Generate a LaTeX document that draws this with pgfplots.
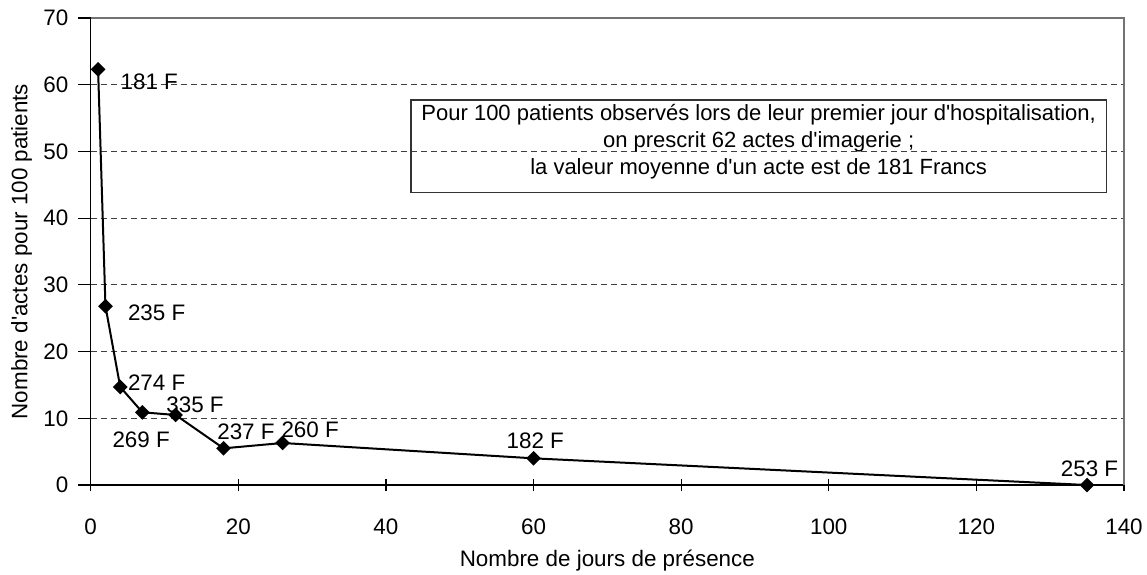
\documentclass[border=0pt]{standalone}
\usepackage{fontspec}
\setmainfont{Liberation Sans}
\usepackage{pgfplots}
\pgfplotsset{compat=1.18}
\usetikzlibrary{calc}
\newcommand{\q}{\textquotesingle}
\begin{document}
\begin{tikzpicture}[font=\fontsize{11.2}{13.4}\selectfont]
\begin{axis}[
  scale only axis, width=516.6pt, height=233.5pt,
  xmin=0, xmax=140, ymin=0, ymax=70,
  xtick={0,20,...,140}, ytick={0,10,...,70},
  axis lines=left, axis line style={-, black, line width=0.6pt},
  tick align=center, major tick length=6.3pt,
  tick style={black, line width=0.6pt},
  y tick style={xshift=-3.15pt},
  ymajorgrids, grid style={black!75, dash pattern=on 3pt off 2pt, line width=0.5pt},
  /pgf/number format/assume math mode=true,
  xticklabel style={anchor=center, inner sep=0pt, yshift=-17.85pt},
  yticklabel style={anchor=east, inner sep=0pt, xshift=-7.85pt},
  xlabel={Nombre de jours de présence},
  ylabel={Nombre d\q actes pour 100 patients},
  xlabel style={at={(axis description cs:0.5,-0.162)}, anchor=center, inner sep=0pt},
  ylabel style={at={(axis description cs:-0.0668,0.5)}, anchor=center, inner sep=0pt},
  clip=false,
]
\draw[black!55, line width=0.6pt] (rel axis cs:0,1) -- (rel axis cs:1,1) -- (rel axis cs:1,0);
\addplot[black, line width=1pt, mark=square*, mark size=2.1pt, mark options={rotate=45, solid}]
  coordinates {(1,62.3) (2,26.8) (4,14.7) (7,10.9) (11.5,10.5) (18,5.5) (26,6.3) (60,4.0) (135,0)};
\node[anchor=west, inner sep=0pt] at (axis cs:4.0,60.4) {181 F};
\node[anchor=west, inner sep=0pt] at (axis cs:5.0,25.8) {235 F};
\node[anchor=west, inner sep=0pt] at (axis cs:5.0,15.4) {274 F};
\node[anchor=west, inner sep=0pt] at (axis cs:10.2,12.05) {335 F};
\node[anchor=west, inner sep=0pt] at (axis cs:2.9,6.75) {269 F};
\node[anchor=west, inner sep=0pt] at (axis cs:17.1,8.05) {237 F};
\node[anchor=west, inner sep=0pt] at (axis cs:25.8,8.25) {260 F};
\node[anchor=west, inner sep=0pt] at (axis cs:56.3,6.6) {182 F};
\node[anchor=west, inner sep=0pt] at (axis cs:131.4,2.5) {253 F};
\draw[black!80, line width=0.6pt] (axis cs:43.4,57.7) rectangle (axis cs:137.6,43.9);
\node[align=center, inner sep=0pt, font=\fontsize{11}{13.5}\selectfont] at (axis cs:90.5,51.4)
  {Pour 100 patients observés lors de leur premier jour d\q hospitalisation,\\
   on prescrit 62 actes d\q imagerie ;\\
   la valeur moyenne d\q un acte est de 181 Francs};
\end{axis}
\pgfresetboundingbox
\path[use as bounding box] ($(current axis.south west)+(-45.35pt,-44.5pt)$) rectangle ($(current axis.north east)+(11.5pt,9pt)$);
\end{tikzpicture}
\end{document}
